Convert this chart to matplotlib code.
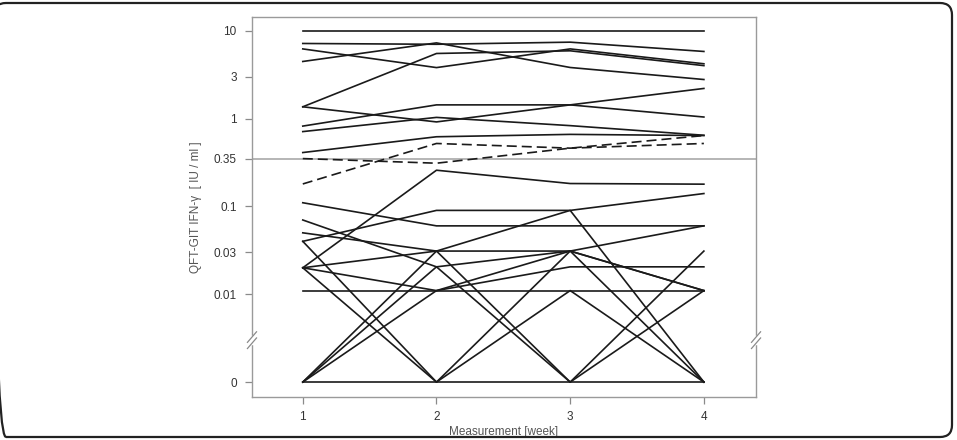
import numpy as np
import matplotlib
matplotlib.use("Agg")
import matplotlib.pyplot as plt
from matplotlib.patches import FancyBboxPatch

plt.rcParams['font.family'] = ['Liberation Sans', 'DejaVu Sans']

# Measurement weeks
weeks = [1, 2, 3, 4]

# QFT-GIT IFN-gamma [IU/ml] per subject, solid lines
solid_series = [
    [10.0, 10.0, 10.0, 10.0],
    [7.15, 7.0, 7.4, 5.8],
    [6.2, 3.8, 6.2, 4.2],
    [4.46, 7.26, 3.81, 2.78],
    [1.36, 5.5, 5.9, 4.0],
    [1.36, 0.915, 1.43, 2.2],
    [0.82, 1.43, 1.43, 1.04],
    [0.71, 1.03, 0.83, 0.645],
    [0.41, 0.62, 0.66, 0.64],
    [0.02, 0.258, 0.182, 0.179],
    [0.11, 0.06, 0.06, 0.06],
    [0.04, 0.09, 0.09, 0.14],
    [0.05, 0.031, 0.09, 0.0],
    [0.07, 0.0205, 0.0, 0.031],
    [0.02, 0.031, 0.031, 0.06],
    [0.02, 0.011, 0.0205, 0.0205],
    [0.011, 0.011, 0.011, 0.011],
    [0.04, 0.0, 0.031, 0.011],
    [0.02, 0.0, 0.011, 0.0],
    [0.0, 0.031, 0.0, 0.011],
    [0.0, 0.0205, 0.031, 0.0],
    [0.0, 0.011, 0.031, 0.011],
    [0.0, 0.0, 0.0, 0.0],
]

# subjects drawn dashed (crossing the cut-off)
dashed_series = [
    [0.35, 0.31, 0.46, 0.64],
    [0.18, 0.52, 0.46, 0.52],
]

cutoff = 0.35
ytick_values = [0, 0.01, 0.03, 0.1, 0.35, 1, 3, 10]
ytick_labels = ["0", "0.01", "0.03", "0.1", "0.35", "1", "3", "10"]
axis_break = 0.003


# log axis with zero placed one decade below 0.01
def fwd(v):
    v = np.asarray(v, dtype=float)
    with np.errstate(divide='ignore', invalid='ignore'):
        lg = np.log10(np.where(v > 1e-3, v, 1e-3))
    return np.where(v > 1e-3, lg, np.where(v < 0, -3 + v * 1000, -3.0))


def inv(t):
    t = np.asarray(t, dtype=float)
    return np.where(t >= -3, 10.0 ** np.minimum(t, 300), (t + 3) / 1000)


fig = plt.figure(figsize=(9.57, 4.40), dpi=100)
ax = fig.add_axes([0.2633, 0.0977, 0.5267, 0.8636])
ax.set_yscale('function', functions=(fwd, inv))

ax.axhline(cutoff, color="#b0b0b0", lw=1.3, zorder=1)

for s in solid_series:
    ax.plot(weeks, s, color="#1a1a1a", lw=1.2, zorder=2)
for s in dashed_series:
    ax.plot(weeks, s, color="#1a1a1a", lw=1.2, ls=(0, (6, 3)), zorder=2)

ax.set_xlim(0.62, 4.39)
ax.set_ylim(-0.00017, 14.3)
ax.set_xticks(weeks)
ax.set_xticklabels([str(w) for w in weeks])
ax.set_yticks(ytick_values)
ax.set_yticklabels(ytick_labels)
ax.yaxis.set_minor_locator(matplotlib.ticker.NullLocator())

for sp in ax.spines.values():
    sp.set_color("#9a9a9a")
    sp.set_linewidth(1.0)
ax.tick_params(axis="both", colors="#8a8a8a", labelcolor="#333333",
               labelsize=8.5, length=5, width=0.9)
ax.tick_params(axis="y", pad=6)
ax.tick_params(axis="x", pad=5)

ax.set_ylabel("QFT-GIT IFN-\u03b3  [ IU / ml ]", fontsize=8.5, color="#555555", labelpad=8)
ax.set_xlabel("Measurement [week]", fontsize=8.5, color="#555555", labelpad=2)

# axis break marks on both sides
ytr = ax.get_yaxis_transform()
tb = np.log10(axis_break)
lo, hi = 10 ** (tb - 0.035), 10 ** (tb + 0.035)
for xa in (0.0, 1.0):
    ax.plot([xa, xa], [lo, hi], color="white", lw=2.5, transform=ytr,
            clip_on=False, zorder=5)
    for c in (tb - 0.035, tb + 0.035):
        ax.plot([xa - 0.009, xa + 0.009], [10 ** (c - 0.06), 10 ** (c + 0.06)],
                color="#8a8a8a", lw=0.9, transform=ytr, clip_on=False, zorder=6)

# rounded figure frame
frame = FancyBboxPatch((-0.06, 0.03), 9.58, 4.34,
                       boxstyle="round,pad=0,rounding_size=0.12",
                       transform=fig.dpi_scale_trans, fill=False,
                       edgecolor="#222222", lw=1.6)
fig.patches.append(frame)

fig.savefig("out.png", dpi=100)
